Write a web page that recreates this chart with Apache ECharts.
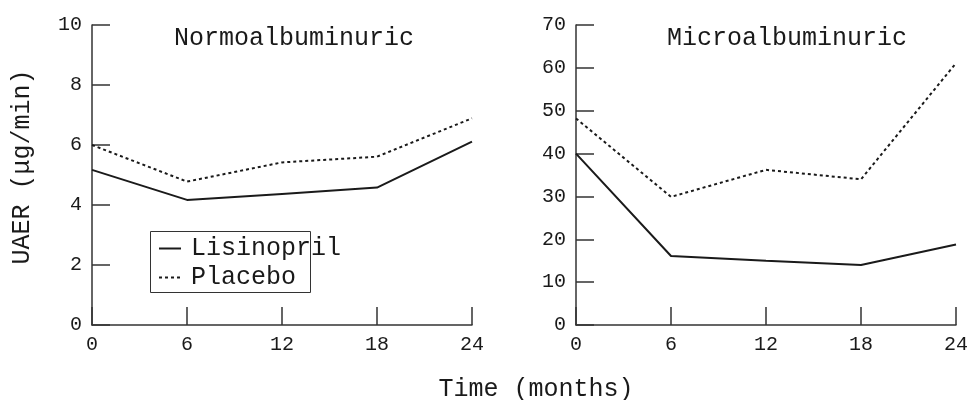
<!DOCTYPE html>
<html>
<head>
<meta charset="utf-8">
<script src="https://cdn.jsdelivr.net/npm/echarts@6/dist/echarts.min.js"></script>
<style>
  html, body { margin: 0; padding: 0; background: #fff; }
  #chart { width: 971px; height: 400px; }
</style>
</head>
<body>
<div id="chart"></div>
<script>
// months on the x axis
const months = [0, 6, 12, 18, 24];

// Normoalbuminuric panel (UAER, ug/min)
const normoLisinopril = [5.17, 4.17, 4.37, 4.58, 6.11];
const normoPlacebo = [6.0, 4.78, 5.42, 5.61, 6.89];

// Microalbuminuric panel
const microLisinopril = [40.0, 16.1, 15.0, 14.0, 18.8];
const microPlacebo = [48.2, 29.9, 36.2, 34.0, 61.1];

const FONT = '"Courier New", "Liberation Mono", monospace';
const INK = '#1a1a1a';

const chart = echarts.init(document.getElementById('chart'), null, { renderer: 'canvas' });

const pairs = (ys) => months.map((m, i) => [m, ys[i]]);

const xAxisBase = {
  type: 'value',
  min: 0,
  max: 24,
  interval: 6,
  axisLine: { lineStyle: { color: '#333', width: 1.5 } },
  axisTick: { inside: true, length: 18, lineStyle: { color: '#333', width: 1.5 } },
  axisLabel: { color: INK, fontFamily: FONT, fontSize: 20, margin: 10 },
  splitLine: { show: false }
};

const yAxisBase = {
  type: 'value',
  min: 0,
  axisLine: { show: true, lineStyle: { color: '#333', width: 1.5 } },
  axisTick: { show: true, inside: true, length: 18, lineStyle: { color: '#333', width: 1.5 } },
  axisLabel: { color: INK, fontFamily: FONT, fontSize: 20, margin: 10 },
  splitLine: { show: false }
};

const solid = { color: INK, width: 2, type: 'solid' };
const dotted = { color: INK, width: 2, type: [3, 3] };

const option = {
  animation: false,
  backgroundColor: '#fff',
  title: [
    {
      text: 'Normoalbuminuric', left: 289, top: 21, textAlign: 'center',
      textStyle: { fontFamily: FONT, fontSize: 25, fontWeight: 'normal', color: INK }
    },
    {
      text: 'Microalbuminuric', left: 782, top: 21, textAlign: 'center',
      textStyle: { fontFamily: FONT, fontSize: 25, fontWeight: 'normal', color: INK }
    },
    {
      text: 'Time (months)', left: 531, top: 372, textAlign: 'center',
      textStyle: { fontFamily: FONT, fontSize: 25, fontWeight: 'normal', color: INK }
    }
  ],
  grid: [
    { left: 92, top: 25, width: 380, height: 300 },
    { left: 576, top: 25, width: 381, height: 300 }
  ],
  xAxis: [
    Object.assign({ gridIndex: 0 }, xAxisBase),
    Object.assign({ gridIndex: 1 }, xAxisBase)
  ],
  yAxis: [
    Object.assign({}, yAxisBase, {
      gridIndex: 0, max: 10, interval: 2,
      name: 'UAER (μg/min)', nameLocation: 'middle', nameGap: 57, nameRotate: 90,
      nameTextStyle: { fontFamily: FONT, fontSize: 25, color: INK, padding: [0, 0, 0, 16] }
    }),
    Object.assign({}, yAxisBase, { gridIndex: 1, max: 70, interval: 10 })
  ],
  legend: {
    data: ['Lisinopril', 'Placebo'],
    orient: 'vertical',
    left: 158,
    top: 236,
    padding: 0,
    itemWidth: 22,
    itemHeight: 14,
    itemGap: 4,
    itemStyle: { opacity: 0 },
    textStyle: { fontFamily: FONT, fontSize: 25, color: INK, padding: [0, 0, 0, 5] }
  },
  graphic: [
    {
      type: 'rect',
      shape: { x: 150.5, y: 231.5, width: 160, height: 61 },
      style: { fill: 'none', stroke: '#333', lineWidth: 1 },
      z: 100
    }
  ],
  series: [
    { name: 'Lisinopril', type: 'line', xAxisIndex: 0, yAxisIndex: 0, symbol: 'none', lineStyle: solid, itemStyle: { color: INK }, data: pairs(normoLisinopril) },
    { name: 'Placebo', type: 'line', xAxisIndex: 0, yAxisIndex: 0, symbol: 'none', lineStyle: dotted, itemStyle: { color: INK }, data: pairs(normoPlacebo) },
    { name: 'Lisinopril', type: 'line', xAxisIndex: 1, yAxisIndex: 1, symbol: 'none', lineStyle: solid, itemStyle: { color: INK }, data: pairs(microLisinopril) },
    { name: 'Placebo', type: 'line', xAxisIndex: 1, yAxisIndex: 1, symbol: 'none', lineStyle: dotted, itemStyle: { color: INK }, data: pairs(microPlacebo) }
  ]
};

chart.setOption(option);
</script>
</body>
</html>
